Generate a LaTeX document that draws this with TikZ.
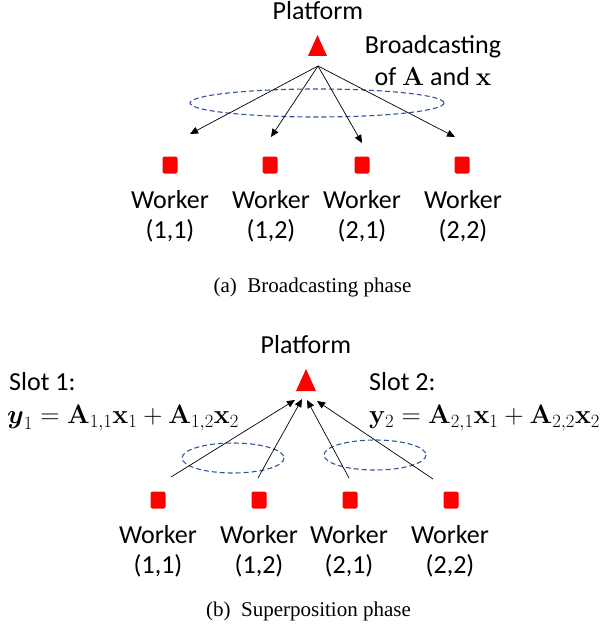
\RequirePackage{fix-cm}
\documentclass[tikz,border=0pt]{standalone}
\usepackage{amsmath}
\usepackage[no-math]{fontspec}
\setmainfont{Carlito}
\newfontfamily\capfont{Liberation Serif}
\usetikzlibrary{arrows.meta}
\definecolor{ellblue}{RGB}{47,85,151}
\definecolor{boxred}{RGB}{255,0,0}
\begin{document}
\begin{tikzpicture}[x=1pt,y=-1pt,
  lbl/.style={font=\fontsize{26}{31}\selectfont, inner sep=0pt, anchor=base},
  eqn/.style={font=\fontsize{26.7}{30}\selectfont, inner sep=0pt, anchor=base west},
  captext/.style={font=\capfont\fontsize{21}{25}\selectfont, inner sep=0pt, anchor=base},
  worker/.style={fill=boxred, draw=none, rounded corners=2pt, minimum width=15pt, minimum height=17pt, inner sep=0pt},
  link/.style={draw=black, line width=0.7pt, -{Triangle[length=8pt,width=7pt]}},
  ring/.style={draw=ellblue, dash pattern=on 5pt off 3pt, line width=1.1pt}
]
\useasboundingbox (0,0) rectangle (612,626);

% ---------------- (a) broadcasting ----------------
\node[lbl] (platA) at (318,20) {Platform};
\fill[boxred] (308,56) -- (327,56) -- (317.5,35) -- cycle;
\coordinate (srcA) at (318,66);
\node[lbl] (bcA) at (433,54) {Broadcasting};
\node[lbl] (bcB) at (433,85) {of $\mathbf{A}$ and $\mathbf{x}$};

\coordinate (ellA) at (317,103);
\draw[ring] (ellA) ellipse [x radius=127, y radius=14];

\coordinate (tA1) at (190,134);
\coordinate (tA2) at (271,137);
\coordinate (tA3) at (362,143);
\coordinate (tA4) at (455,137);
\draw[link] (srcA) -- (tA1);
\draw[link] (srcA) -- (tA2);
\draw[link] (srcA) -- (tA3);
\draw[link] (srcA) -- (tA4);

\node[worker] (wA1) at (170,165) {};
\node[worker] (wA2) at (270,165) {};
\node[worker] (wA3) at (362,165) {};
\node[worker] (wA4) at (462,165) {};

\node[lbl] (lA1) at (170,208) {Worker};
\node[lbl] (lA2) at (271,208) {Worker};
\node[lbl] (lA3) at (362,208) {Worker};
\node[lbl] (lA4) at (463,208) {Worker};
\node[lbl] (iA1) at (170,238) {(1,1)};
\node[lbl] (iA2) at (271,238) {(1,2)};
\node[lbl] (iA3) at (362,238) {(2,1)};
\node[lbl] (iA4) at (463,238) {(2,2)};

\node[captext] (capA) at (312.5,292) {(a)\hspace{0.5em}Broadcasting phase};

% ---------------- (b) superposition ----------------
\node[lbl] (platB) at (306,353) {Platform};
\fill[boxred] (296,391) -- (316,391) -- (306,369) -- cycle;

\node[lbl, anchor=base west] (slot1) at (9,390) {Slot 1:};
\node[lbl, anchor=base west] (slot2) at (369,390) {Slot 2:};
\node[eqn] (eq1) at (7,423) {$\boldsymbol{y}_1=\mathbf{A}_{1,1}\mathbf{x}_1+\mathbf{A}_{1,2}\mathbf{x}_2$};
\node[eqn] (eq2) at (369,423) {$\mathbf{y}_2=\mathbf{A}_{2,1}\mathbf{x}_1+\mathbf{A}_{2,2}\mathbf{x}_2$};

\coordinate (ellB1) at (233,458);
\coordinate (ellB2) at (375,455);
\draw[ring] (ellB1) ellipse [x radius=51, y radius=15];
\draw[ring] (ellB2) ellipse [x radius=51, y radius=15];

\coordinate (sB1) at (171,477);
\coordinate (sB2) at (258,478);
\coordinate (sB3) at (349,478);
\coordinate (sB4) at (433,479);
\coordinate (tB1) at (295,400);
\coordinate (tB2) at (302,399);
\coordinate (tB3) at (307,400);
\coordinate (tB4) at (317,401);
\draw[link] (sB1) -- (tB1);
\draw[link] (sB2) -- (tB2);
\draw[link] (sB3) -- (tB3);
\draw[link] (sB4) -- (tB4);

\node[worker] (wB1) at (158,500) {};
\node[worker] (wB2) at (259,500) {};
\node[worker] (wB3) at (350,500) {};
\node[worker] (wB4) at (451,500) {};

\node[lbl] (lB1) at (158,543) {Worker};
\node[lbl] (lB2) at (259,543) {Worker};
\node[lbl] (lB3) at (349,543) {Worker};
\node[lbl] (lB4) at (450,543) {Worker};
\node[lbl] (iB1) at (158,573) {(1,1)};
\node[lbl] (iB2) at (259,573) {(1,2)};
\node[lbl] (iB3) at (349,573) {(2,1)};
\node[lbl] (iB4) at (450,573) {(2,2)};

\node[captext] (capB) at (308.5,616) {(b)\hspace{0.5em}Superposition phase};
\end{tikzpicture}
\end{document}
